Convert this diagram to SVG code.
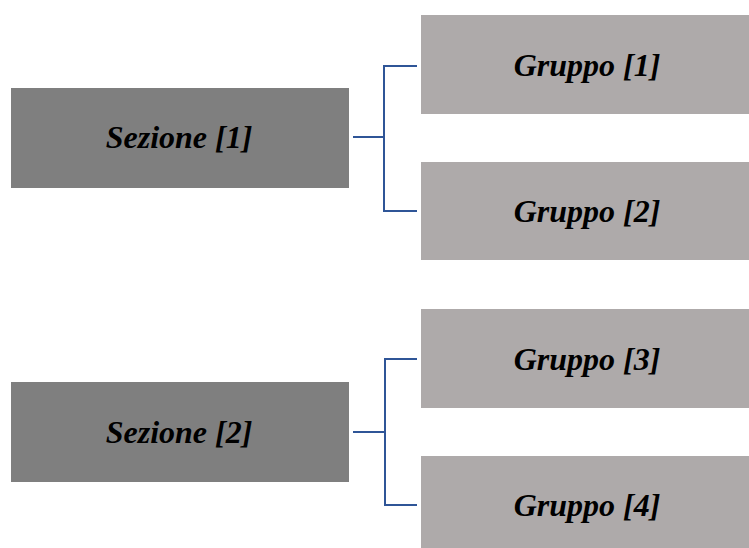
<svg xmlns="http://www.w3.org/2000/svg" width="749" height="548" viewBox="0 0 749 548">
<style>
.sez{fill:#7f7f7f}
.grp{fill:#aeaaaa}
.t{font-family:"Liberation Serif","Times New Roman",serif;font-weight:bold;font-style:italic;font-size:32px;fill:#000;text-anchor:middle}
.c{fill:none;stroke:#2f5597;stroke-width:2}
</style>
<rect width="749" height="548" fill="#fff"/>
<g id="sezione1"><rect class="sez" x="11" y="88" width="338" height="100"/><text class="t" x="179" y="148">Sezione [1]</text></g>
<g id="gruppo1"><rect class="grp" x="421" y="15" width="328" height="99"/><text class="t" x="587" y="76">Gruppo [1]</text></g>
<g id="gruppo2"><rect class="grp" x="421" y="162" width="328" height="98"/><text class="t" x="587" y="222">Gruppo [2]</text></g>
<g id="sezione2"><rect class="sez" x="11" y="382" width="338" height="100"/><text class="t" x="179" y="443">Sezione [2]</text></g>
<g id="gruppo3"><rect class="grp" x="421" y="309" width="328" height="99"/><text class="t" x="587" y="370">Gruppo [3]</text></g>
<g id="gruppo4"><rect class="grp" x="421" y="456" width="328" height="100"/><text class="t" x="587" y="516">Gruppo [4]</text></g>
<g id="connectors">
<path class="c" d="M353 137H384M417 66H384V211H417"/>
<path class="c" d="M353 432H385M417 359H385V505H417"/>
</g>
</svg>
